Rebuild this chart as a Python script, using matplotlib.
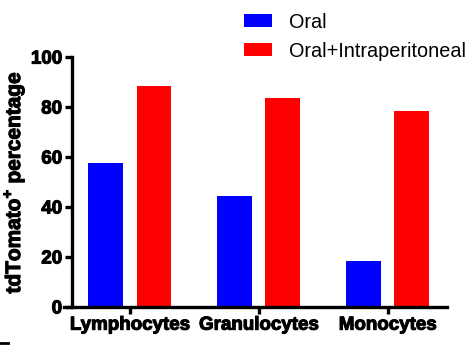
import numpy as np
import matplotlib.pyplot as plt
import matplotlib.patheffects as pe
from matplotlib.patches import Patch
from matplotlib.lines import Line2D

plt.rcParams['font.family'] = ['Liberation Sans', 'DejaVu Sans']
plt.rcParams['mathtext.fontset'] = 'custom'
plt.rcParams['mathtext.bf'] = 'Liberation Sans:bold'
plt.rcParams['mathtext.rm'] = 'Liberation Sans:bold'

categories = ['Lymphocytes', 'Granulocytes', 'Monocytes']
oral = [57.6, 44.3, 18.3]
oral_ip = [88.3, 83.6, 78.3]
series = ['Oral', 'Oral+Intraperitoneal']
colors = ['#0000FF', '#FF0000']
yticks = [0, 20, 40, 60, 80, 100]

heavy = [pe.withStroke(linewidth=0.8, foreground='black')]

fig = plt.figure(figsize=(4.71, 3.48), dpi=100)
ax = fig.add_axes([0.136, 0.118, 0.813, 0.718])

x = np.arange(len(categories))
w = 0.27
off = 0.187
ax.bar(x - off, oral, w, color=colors[0])
ax.bar(x + off, oral_ip, w, color=colors[1])

ax.set_xlim(-0.51, 2.46)
ax.set_ylim(0, 100)
ax.spines['left'].set_position(('data', -0.45))
ax.spines['top'].set_visible(False)
ax.spines['right'].set_visible(False)
for s in ['left', 'bottom']:
    ax.spines[s].set_linewidth(2.4)
ax.set_xticks(x)
ax.set_xticklabels(categories, fontweight='bold', fontsize=13.5, path_effects=heavy)
ax.set_yticks(yticks)
ax.set_yticklabels([str(t) for t in yticks], fontweight='bold', fontsize=13.5, path_effects=heavy)
ax.tick_params(width=2.4, length=5, pad=2)
ax.set_ylabel(r'tdTomato$^{\mathbf{+}}$ percentage', fontweight='bold', fontsize=15,
              labelpad=3, path_effects=heavy)

handles = [Patch(facecolor=c, label=l) for c, l in zip(colors, series)]
fig.legend(handles=handles, loc='upper left', bbox_to_anchor=(0.48, 1.015),
           frameon=False, fontsize=14.3, handlelength=1.4, handleheight=0.6,
           labelspacing=0.5, handletextpad=0.85)

fig.add_artist(Line2D([0, 0.017], [0.013, 0.013], color='black', lw=2))

plt.savefig('out.png', dpi=100)
